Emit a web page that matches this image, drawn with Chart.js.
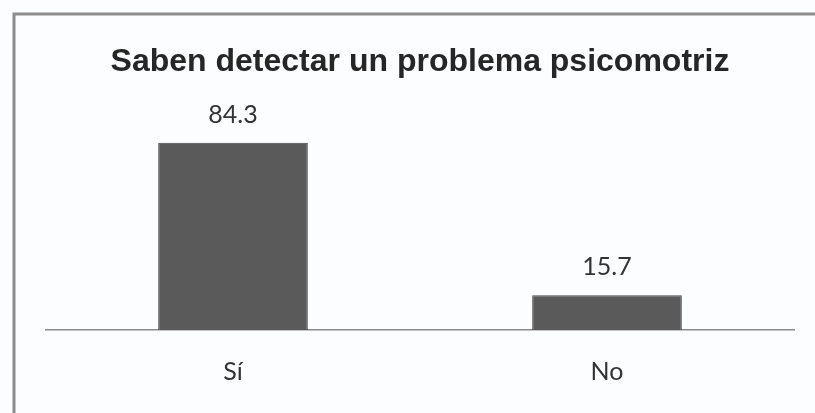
<!DOCTYPE html>
<html>
<head>
<meta charset="utf-8">
<script src="https://cdn.jsdelivr.net/npm/chart.js@4"></script>
<style>
  html, body { margin: 0; padding: 0; background: #fcfdfe; }
  #wrap { width: 815px; height: 413px; }
</style>
</head>
<body>
<div id="wrap"><canvas id="chart-psicomotriz"></canvas></div>
<script>
const categorias = ["Sí", "No"];
const porcentajes = [84.3, 15.7];
const titulo = "Saben detectar un problema psicomotriz";

// marco gris (solo arriba e izquierda visibles) y fondo
const marco = {
    id: "marco",
    beforeDraw(chart) {
        const ctx = chart.ctx;
        ctx.save();
        ctx.fillStyle = "#fcfdfe";
        ctx.fillRect(0, 0, chart.width, chart.height);
        ctx.strokeStyle = "#8e8e8e";
        ctx.lineWidth = 3;
        ctx.beginPath();
        ctx.moveTo(14, chart.height);
        ctx.lineTo(14, 14);
        ctx.lineTo(chart.width, 14);
        ctx.stroke();
        ctx.restore();
    }
};

// etiquetas de valor encima de cada barra
const etiquetas = {
    id: "etiquetas",
    afterDatasetsDraw(chart) {
        const ctx = chart.ctx;
        const meta = chart.getDatasetMeta(0);
        ctx.save();
        ctx.font = "25px Lato";
        ctx.fillStyle = "#333";
        ctx.textAlign = "center";
        ctx.textBaseline = "middle";
        meta.data.forEach((bar, i) => {
            ctx.fillText(porcentajes[i].toFixed(1), bar.x, bar.y - 28);
        });
        ctx.restore();
    }
};

new Chart(document.getElementById("chart-psicomotriz"), {
    type: "bar",
    data: {
        labels: categorias,
        datasets: [{
            label: titulo,
            data: porcentajes,
            backgroundColor: "#5a5a5a",
            borderColor: "#454545",
            borderWidth: 1,
            barPercentage: 0.4,
            categoryPercentage: 1
        }]
    },
    options: {
        responsive: true,
        maintainAspectRatio: false,
        animation: false,
        layout: {
            padding: { left: 46, right: 21, top: 0, bottom: 0 }
        },
        plugins: {
            legend: { display: false },
            tooltip: { enabled: false },
            title: {
                display: true,
                text: titulo,
                color: "#262626",
                font: { family: "Liberation Sans", size: 32, weight: "bold", lineHeight: 1.2 },
                padding: { top: 43, bottom: 26.6 }
            }
        },
        scales: {
            x: {
                grid: { display: false, drawTicks: false },
                border: { display: true, color: "#8a8a8a", width: 1.5 },
                ticks: {
                    color: "#333",
                    font: { family: "Lato", size: 25 },
                    padding: 27
                },
                afterFit(scale) { scale.height = 83; }
            },
            y: {
                display: false,
                min: 0,
                max: 100
            }
        }
    },
    plugins: [marco, etiquetas]
});
</script>
</body>
</html>
